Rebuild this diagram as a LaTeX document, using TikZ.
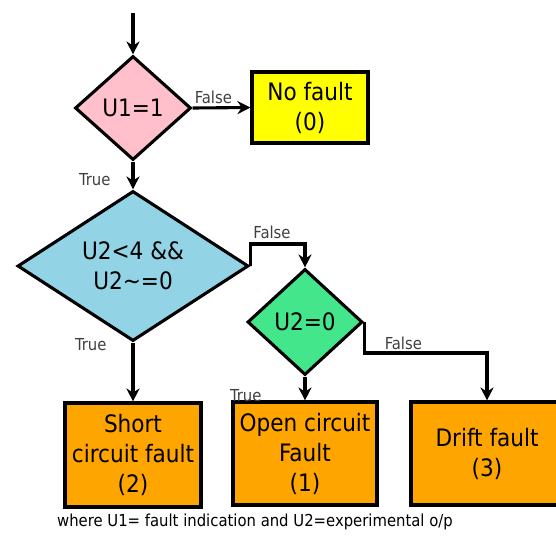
\documentclass[tikz,border=0pt]{standalone}
\usepackage{fontspec}
\setmainfont{DejaVu Sans Condensed}
\usepackage{tikz}
\usetikzlibrary{shapes.geometric, arrows.meta}
\definecolor{checkpink}{RGB}{255,192,203}
\definecolor{checkblue}{RGB}{146,212,230}
\definecolor{checkgreen}{RGB}{68,230,140}
\definecolor{faultorange}{RGB}{255,165,0}
\definecolor{nofaultyellow}{RGB}{255,255,0}
\tikzset{
    decision/.style={diamond, draw=black, line width=3.1pt, inner sep=0pt, align=center,
        font=\fontsize{24}{30}\selectfont},
    outcome/.style={rectangle, draw=black, line width=3.1pt, inner sep=0pt, align=center,
        font=\fontsize{24}{30}\selectfont},
    flow/.style={line width=3.1pt, -{Stealth[length=13pt, width=13pt]}},
    branchlabel/.style={font=\fontsize{16.5}{18}\selectfont, text=black!75, inner sep=1pt}
}

\begin{document}
\begin{tikzpicture}[x=1pt, y=-1pt]
            \useasboundingbox (0,0) rectangle (556,536);

            % Checks
            \coordinate (start) at (133,13);
            \node[decision, fill=checkpink, minimum width=116pt, minimum height=104pt] (u1) at (133,108) {U1=1};
            \node[decision, fill=checkblue, minimum width=231pt, minimum height=141pt] (u2a) at (133,266) {U2<4 \&\&\\U2\textasciitilde=0};
            \node[decision, fill=checkgreen, minimum width=115pt, minimum height=106pt] (u2b) at (305,322) {U2=0};

            % Fault classes
            \node[outcome, fill=nofaultyellow, minimum width=116pt, minimum height=71pt] (nofault) at (310,107.5) {No fault\\(0)};
            \node[outcome, fill=faultorange, minimum width=136pt, minimum height=104pt] (short) at (133,455) {Short\\circuit fault\\(2)};
            \node[outcome, fill=faultorange, minimum width=144pt, minimum height=103pt] (open) at (305,453.5) {Open circuit\\Fault\\(1)};
            \node[outcome, fill=faultorange, minimum width=152pt, minimum height=103pt] (drift) at (487,453.5) {Drift fault\\(3)};

            % Branches
            \draw[flow] (start) -- (u1.north);
            \draw[flow] (u1.east) -- node[branchlabel, pos=0.36, above=2pt] {False} (nofault.west);
            \draw[flow] (u1.south) -- node[branchlabel, pos=0.65, left=20pt] {True} (u2a.north);
            \draw[flow] (u2a.east) -- ++(0,-22) -| node[branchlabel, pos=0.2, above=3pt] {False} (u2b.north);
            \draw[flow] (u2a.south) -- node[branchlabel, pos=0.03, left=24pt] {True} (short.north);
            \draw[flow] (u2b.east) -- ++(0,31) -| node[branchlabel, pos=0.16, above=1pt] {False} (drift.north);
            \draw[flow] (u2b.south) -- node[branchlabel, pos=0.78, left=41pt] {True} (open.north);

            \node[font=\fontsize{16.5}{18}\selectfont] (note) at (255,522) {where U1= fault indication and U2=experimental o/p};
        \end{tikzpicture}
\end{document}
